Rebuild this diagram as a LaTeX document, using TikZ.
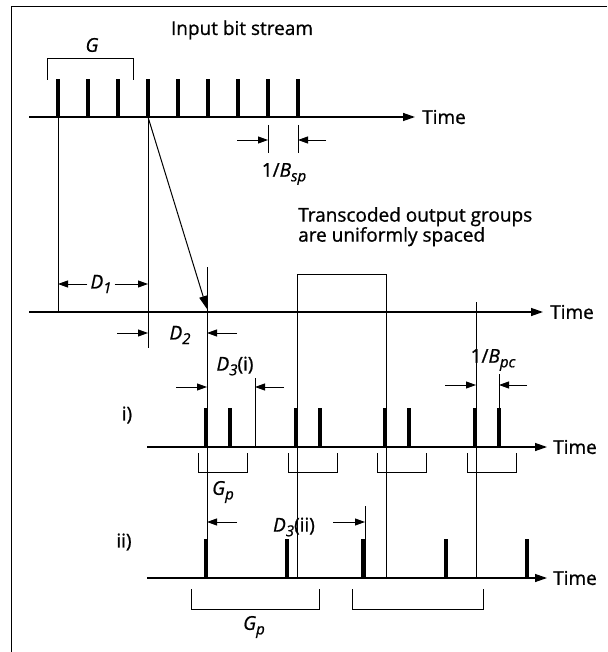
\documentclass[tikz,border=0pt]{standalone}
\usepackage{fontspec}
\setmainfont{Open Sans}[RawFeature={embolden=0.9}]
\usetikzlibrary{arrows.meta}
\newcommand\subsc[1]{\raisebox{-0.45ex}{\fontsize{15}{15}\selectfont\itshape #1}}
\begin{document}
\begin{tikzpicture}[x=1pt,y=-1pt,
  thin line/.style={line width=0.9pt},
  axisline/.style={line width=1.3pt,-{Triangle[length=12pt,width=8pt]}},
  pulse/.style={line width=4pt},
  dimarrow/.style={line width=0.9pt,-{Triangle[length=10pt,width=7pt]}},
  lbl/.style={font=\fontsize{19}{22}\selectfont, inner sep=0pt},
  bracketline/.style={line width=0.9pt}]
\useasboundingbox (0,0) rectangle (607,652);
% frame
\draw[line width=1pt] (607,7) -- (11,7) -- (11,652);

% ---- top: input bit stream
\node[lbl] (inlbl) at (242,30) {Input bit stream};
\coordinate (a0s) at (29,117);
\coordinate (a0e) at (415,117);
\draw[axisline] (a0s) -- (a0e);
\node[lbl,anchor=west] (t0) at (422,117) {Time};
\foreach \k in {0,...,8}{
  \draw[pulse] (58+30*\k,117) -- (58+30*\k,79);
}
\draw[bracketline] (47,80) -- (47,58) -- (133,58) -- (133,80);
\node[lbl] (glbl) at (92,45) {\itshape G};
% 1/Bsp
\draw[thin line] (268,125) -- (268,153);
\draw[thin line] (298,125) -- (298,153);
\coordinate (bs1) at (237,140); \coordinate (bs1e) at (268,140);
\coordinate (bs2) at (326,140); \coordinate (bs2e) at (298,140);
\draw[dimarrow] (bs1) -- (bs1e);
\draw[dimarrow] (bs2) -- (bs2e);
\node[lbl] (bsp) at (284,174) {1/\textit{B}\subsc{sp}};

% ---- verticals from input
\draw[thin line] (58,117) -- (58,312);
\draw[thin line] (148,117) -- (148,348);
\coordinate (dstart) at (148,117);
\coordinate (dend) at (207,309);
\draw[line width=1pt,-{Triangle[length=13pt,width=8pt]}] (dstart) -- (dend);

% ---- second axis
\draw[axisline] (29,312) -- (543,312);
\node[lbl,anchor=west] (t1) at (550,312) {Time};
% D1
\node[lbl] (d1) at (101,284) {\textit{D}\subsc{1}};
\draw[dimarrow] (d1.west) ++(-3,0) -- (58,284);
\draw[dimarrow] (d1.east) ++(3,0) -- (148,284);
% D2
\node[lbl] (d2) at (180,335) {\textit{D}\subsc{2}};
\draw[dimarrow] (117,333) -- (148,333);
\draw[dimarrow] (237,333) -- (207,333);
% vertical at first output group
\draw[thin line] (207,267) -- (207,578);
% D3(i)
\node[lbl] (d3i) at (235,366) {\textit{D}\subsc{3}(i)};
\draw[thin line] (255,378) -- (255,447);
\draw[dimarrow] (176,387) -- (207,387);
\draw[dimarrow] (284,387) -- (255,387);

% transcoded groups text + bracket
\node[lbl,anchor=north west,align=left] (trans) at (298,207) {Transcoded output groups\\[-2pt]are uniformly spaced};
\draw[bracketline] (297,295) -- (297,274) -- (386,274) -- (386,295);
\draw[thin line] (297,274) -- (297,578);
\draw[thin line] (386,274) -- (386,578);
\draw[thin line] (476,302) -- (476,578);
% 1/Bpc
\node[lbl] (bpc) at (493,360) {1/\textit{B}\subsc{pc}};
\draw[thin line] (499,374) -- (499,410);
\draw[dimarrow] (445,385) -- (476,385);
\draw[dimarrow] (527,385) -- (499,385);

% ---- case i)
\node[lbl] (li) at (127,415) {i)};
\draw[axisline] (147,447) -- (547,447);
\node[lbl,anchor=west] (t2) at (553,447) {Time};
\foreach \x in {205.5,295.5,384.5,474.5}{
  \draw[pulse] (\x,447) -- (\x,408);
  \draw[pulse] (\x+24.5,447) -- (\x+24.5,408);
  \draw[bracketline] (\x-7.5,453) -- (\x-7.5,472) -- (\x+41.5,472) -- (\x+41.5,453);
}
\node[lbl] (gpi) at (223,492) {\textit{G}\subsc{p}};

% ---- case ii)
\node[lbl] (lii) at (124,542) {ii)};
\node[lbl] (d3ii) at (294,527) {\textit{D}\subsc{3}(ii)};
\draw[dimarrow] (237,522) -- (207,522);
\draw[dimarrow] (333,522) -- (365,522);
\draw[thin line] (365,506) -- (365,578);
\draw[axisline] (147,578) -- (547,578);
\node[lbl,anchor=west] (t3) at (553,578) {Time};
\foreach \x in {205.5,287,363,446,527}{
  \draw[pulse] (\x,578) -- (\x,539);
}
\draw[bracketline] (191,589) -- (191,609) -- (319,609) -- (319,589);
\draw[bracketline] (352,589) -- (352,609) -- (483,609) -- (483,589);
\node[lbl] (gpii) at (254,627) {\textit{G}\subsc{p}};
\end{tikzpicture}
\end{document}
